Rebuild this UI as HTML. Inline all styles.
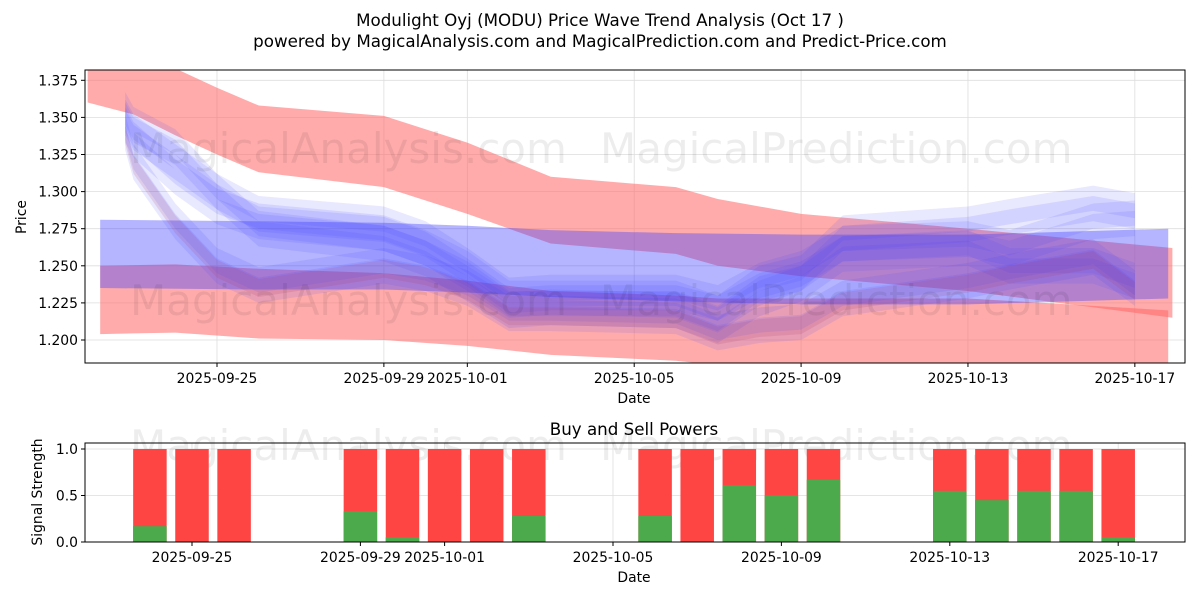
<!DOCTYPE html>
<html><head><meta charset="utf-8"><style>
body{margin:0;background:#fff;font-family:"DejaVu Sans","Liberation Sans",sans-serif}
</style></head><body>
<svg id="c" width="1200" height="600" xmlns="http://www.w3.org/2000/svg" font-family="DejaVu Sans, Liberation Sans, sans-serif"></svg>
<script>
const tickDates=["09-25","09-29","10-01","10-05","10-09","10-13","10-17"];
const tickLabels=["2025-09-25","2025-09-29","2025-10-01","2025-10-05","2025-10-09","2025-10-13","2025-10-17"];
const yTicks=[1.200,1.225,1.250,1.275,1.300,1.325,1.350,1.375];
const redUpDates=["09-21.9","09-23","09-24","09-25","09-26","09-29","10-01","10-03","10-06","10-07","10-09","10-13","10-17.9"];
const redUpLo=[1.360,1.352,1.338,1.325,1.313,1.303,1.285,1.265,1.258,1.250,1.243,1.233,1.215];
const redUpHi=[1.382,1.392,1.383,1.370,1.358,1.351,1.333,1.310,1.303,1.295,1.285,1.275,1.262];
const redLoDates=["09-22.2","09-24","09-26","09-29","10-01","10-03","10-06","10-07","10-09","10-13","10-17.8"];
const redLoLo=[1.204,1.205,1.201,1.200,1.196,1.190,1.186,1.183,1.182,1.181,1.180];
const redLoHi=[1.250,1.251,1.248,1.245,1.240,1.233,1.230,1.228,1.228,1.228,1.220];
const blueWDates=["09-22.2","09-26","09-29","10-01","10-03","10-06","10-09","10-13","10-17.8"];
const blueWLo=[1.235,1.234,1.234,1.232,1.229,1.226,1.224,1.224,1.228];
const blueWHi=[1.281,1.280,1.279,1.277,1.274,1.272,1.271,1.271,1.275];
const waveDates=["09-22.8","09-23","09-24","09-25","09-26","09-29","09-30","10-01","10-02","10-03","10-06","10-07","10-08","10-09","10-10","10-13","10-14","10-16","10-17"];
const wave1=[1.345,1.335,1.310,1.290,1.280,1.272,1.262,1.248,1.228,1.228,1.228,1.218,1.238,1.245,1.272,1.278,1.283,1.292,1.287];
const wave2=[1.340,1.320,1.280,1.250,1.237,1.250,1.245,1.235,1.218,1.218,1.216,1.205,1.210,1.212,1.228,1.240,1.246,1.256,1.235];
const wave3=[1.350,1.340,1.320,1.300,1.285,1.278,1.268,1.250,1.230,1.232,1.232,1.225,1.240,1.248,1.265,1.268,1.262,1.280,1.282];
const wave4=[1.355,1.345,1.330,1.300,1.275,1.265,1.255,1.238,1.220,1.222,1.220,1.210,1.228,1.238,1.258,1.262,1.250,1.250,1.240];
const buyDates=["09-24","09-25","09-26","09-29","09-30","10-01","10-02","10-03","10-06","10-07","10-08","10-09","10-10","10-13","10-14","10-15","10-16","10-17"];
const buyVals=[0.17,0,0,0.33,0.05,0,0,0.28,0.28,0,0.61,0.5,0.67,0.55,0.45,0.55,0.55,0.05];
const sig=[0,0.5,1];

const NS="http://www.w3.org/2000/svg",svg=document.getElementById('c');
function el(t,a,p){const e=document.createElementNS(NS,t);for(const k in a)e.setAttribute(k,a[k]);(p||svg).appendChild(e);return e;}
function day(s){const [m,d]=s.split('-');return (m==='09'?0:30)+parseFloat(d);}
const L=85,R=1185,PT=70,PB=363;
const x=s=>217+(day(s)-25)*41.72;
const xb=s=>192+(day(s)-25)*42.1;
const y=v=>340+(1.2-v)/0.025*37.1;
const BT=443,BB=542;
const yb=v=>542-v*93;
const FS=13.9;

const defs=el('defs',{});
const cp=el('clipPath',{id:'pc'},defs);el('rect',{x:L,y:PT,width:R-L,height:PB-PT},cp);
tickDates.forEach(d=>{const g=el('line',{x1:x(d),x2:x(d),y1:PT,y2:PB,stroke:'#ddd','stroke-width':0.8});
 const g2=el('line',{x1:xb(d),x2:xb(d),y1:BT,y2:BB,stroke:'#ddd','stroke-width':0.8});});
yTicks.forEach(v=>{const g=el('line',{x1:L,x2:R,y1:y(v),y2:y(v),stroke:'#ddd','stroke-width':0.8});});
sig.forEach(v=>{const g=el('line',{x1:L,x2:R,y1:yb(v),y2:yb(v),stroke:'#ddd','stroke-width':0.8});});
const G=el('g',{'clip-path':'url(#pc)'});
function band(ds,lo,hi,fill,op,name){let p=ds.map((d,i)=>x(d)+','+y(hi[i]));for(let i=ds.length-1;i>=0;i--)p.push(x(ds[i])+','+y(lo[i]));
 const e=el('polygon',{points:p.join(' '),fill:fill,'fill-opacity':op},G);}
band(redUpDates,redUpLo,redUpHi,'#ff6666',0.55,'red-band-upper');
band(redLoDates,redLoLo,redLoHi,'#ff6666',0.55,'red-band-lower');
band(blueWDates,blueWLo,blueWHi,'#4444ff',0.4,'blue-band-wide');
[wave1,wave2,wave3,wave4].forEach((w,k)=>{
 [0.005,0.012].forEach((h,j)=>band(waveDates,w.map(v=>v-h),w.map(v=>v+h),'#4444ff',0.12,'wave-band-'+k));
});
band(waveDates,wave2.map(v=>v-0.008),wave2.map(v=>v+0.004),'#aa3366',0.15,'wave-band-purple');
[[130,163,'MagicalAnalysis.com'],[600,163,'MagicalPrediction.com'],[130,315,'MagicalAnalysis.com'],[600,315,'MagicalPrediction.com'],[130,460,'MagicalAnalysis.com'],[600,460,'MagicalPrediction.com']].forEach(w=>{
 const t=el('text',{x:w[0],y:w[1],'font-size':42,fill:'#000','fill-opacity':0.07});t.textContent=w[2];});
buyDates.forEach((d,i)=>{const cx=xb(d),w=33.5;
 const r=el('rect',{x:cx-w/2,y:yb(1),width:w,height:yb(0)-yb(1),fill:'#ff4444'});
 const g=el('rect',{x:cx-w/2,y:yb(buyVals[i]),width:w,height:yb(0)-yb(buyVals[i]),fill:'#4caa4c'});});
[[PT,PB,'price-axes'],[BT,BB,'signal-axes']].forEach(a=>{const f=el('rect',{x:L,y:a[0],width:R-L,height:a[1]-a[0],fill:'none',stroke:'#000','stroke-width':1});});
function txt(s,X,Y,o,name){const t=el('text',Object.assign({x:X,y:Y,'font-size':FS,fill:'#000'},o||{}));t.textContent=s;return t;}
tickDates.forEach((d,i)=>{el('line',{x1:x(d),x2:x(d),y1:PB,y2:PB+4,stroke:'#000'});el('line',{x1:xb(d),x2:xb(d),y1:BB,y2:BB+4,stroke:'#000'});
 txt(tickLabels[i],x(d),PB+20,{'text-anchor':'middle'},'x-tick-label');txt(tickLabels[i],xb(d),BB+20,{'text-anchor':'middle'},'x-tick-label-lower');});
yTicks.forEach(v=>{el('line',{x1:L-4,x2:L,y1:y(v),y2:y(v),stroke:'#000'});txt(v.toFixed(3),L-7,y(v)+5,{'text-anchor':'end'},'y-tick-label');});
sig.forEach(v=>{el('line',{x1:L-4,x2:L,y1:yb(v),y2:yb(v),stroke:'#000'});txt(v.toFixed(1),L-7,yb(v)+5,{'text-anchor':'end'},'signal-tick-label');});
txt('Date',634,403,{'text-anchor':'middle'},'x-axis-title');
txt('Date',634,582,{'text-anchor':'middle'},'x-axis-title-lower');
txt('Price',26,217,{'text-anchor':'middle',transform:'rotate(-90 26 217)'},'y-axis-title');
txt('Signal Strength',42,492,{'text-anchor':'middle',transform:'rotate(-90 42 492)'},'signal-axis-title');
txt('Buy and Sell Powers',634,435,{'text-anchor':'middle','font-size':16.7},'lower-title');
txt('Modulight Oyj (MODU) Price Wave Trend Analysis (Oct 17 )',600,26,{'text-anchor':'middle','font-size':16.7},'chart-title');
txt('powered by MagicalAnalysis.com and MagicalPrediction.com and Predict-Price.com',600,47,{'text-anchor':'middle','font-size':16.7},'chart-subtitle');
</script>
</body></html>
